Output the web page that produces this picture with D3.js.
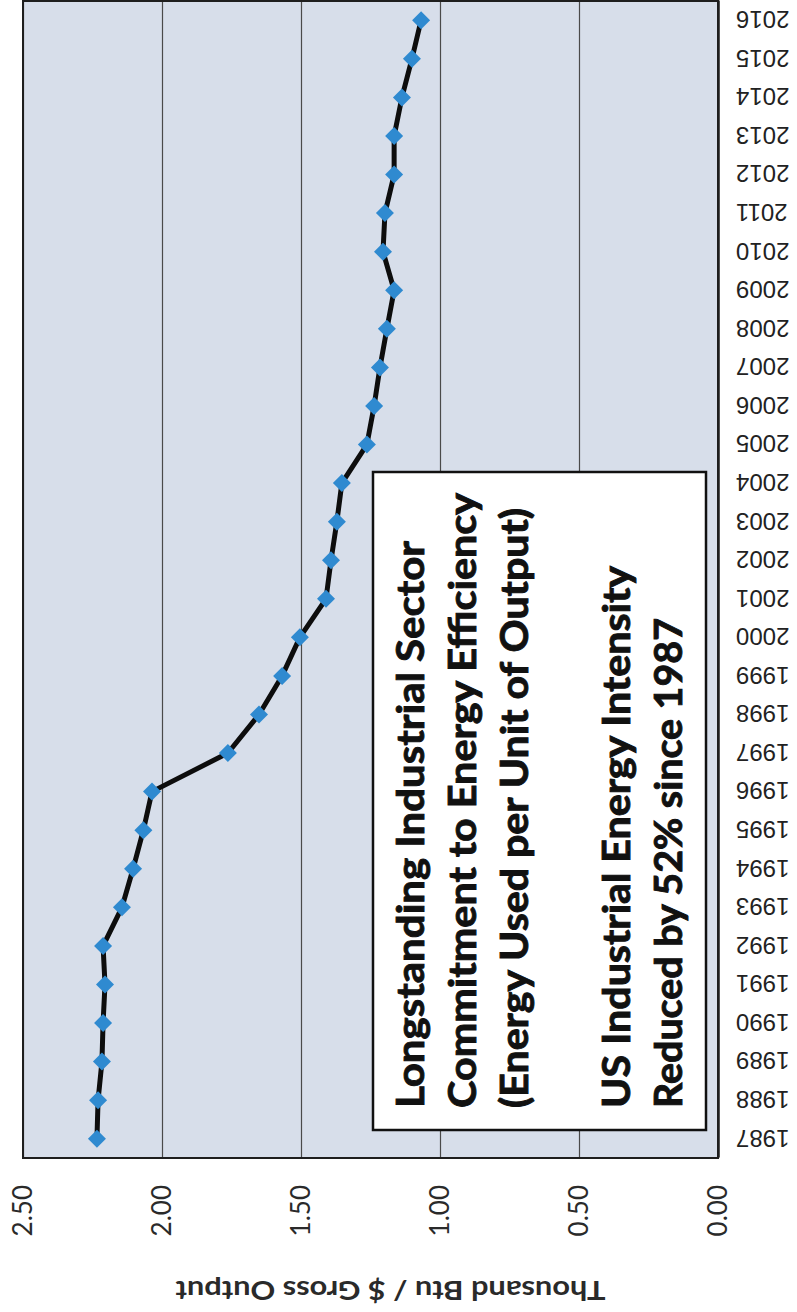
<!DOCTYPE html>
<html>
<head>
<meta charset="utf-8">
<script src="https://cdn.jsdelivr.net/npm/d3@7"></script>
<style>
  html, body { margin: 0; padding: 0; background: #ffffff; }
  svg { display: block; }
</style>
</head>
<body>
<script>
// Industrial energy intensity, thousand Btu per dollar of gross output
const years = ["1987","1988","1989","1990","1991","1992","1993","1994","1995","1996",
               "1997","1998","1999","2000","2001","2002","2003","2004","2005","2006",
               "2007","2008","2009","2010","2011","2012","2013","2014","2015","2016"];
const intensity = [2.234, 2.230, 2.216, 2.212, 2.205, 2.212, 2.144, 2.104, 2.067, 2.036,
                   1.763, 1.651, 1.568, 1.504, 1.410, 1.392, 1.371, 1.353, 1.263, 1.237,
                   1.216, 1.191, 1.165, 1.205, 1.198, 1.165, 1.165, 1.137, 1.101, 1.068];
const valueTicks = [0, 0.5, 1.0, 1.5, 2.0, 2.5];
const axisTitle = "Thousand Btu / $ Gross Output";
const noteLines = [
  "Longstanding Industrial Sector",
  "Commitment to Energy Efficiency",
  "(Energy Used per Unit of Output)",
  "US Industrial Energy Intensity",
  "Reduced by 52% since 1987"
];

const W = 797, H = 1312;
const svg = d3.select("body").append("svg")
  .attr("width", W).attr("height", H);

// The chart is laid out landscape (H wide, W tall) and turned a quarter turn onto the page.
const g = svg.append("g").attr("transform", `translate(0,${H}) rotate(-90)`);

const plot = { left: 154, right: 1311, top: 23, bottom: 718 };

const x = d3.scalePoint().domain(years).range([plot.left, plot.right]).padding(0.5);
const y = d3.scaleLinear().domain([0, 2.5]).range([plot.bottom, plot.top]);

// plot background
g.append("rect")
  .attr("x", plot.left).attr("y", plot.top)
  .attr("width", plot.right - plot.left).attr("height", plot.bottom - plot.top)
  .attr("fill", "#d7deea");

// value axis with gridlines
const yAxis = g.append("g")
  .attr("transform", `translate(${plot.left},0)`)
  .call(d3.axisLeft(y)
    .tickValues(valueTicks)
    .tickFormat(d3.format(".2f"))
    .tickSize(-(plot.right - plot.left))
    .tickPadding(27));
yAxis.select(".domain").remove();
yAxis.selectAll(".tick line").attr("stroke", "#4a4a4a").attr("stroke-width", 1.2);
yAxis.selectAll(".tick text")
  .attr("font-family", "Lato, 'Open Sans', sans-serif")
  .attr("font-size", 26)
  .attr("fill", "#2a2a2a");

// plot frame
g.append("rect")
  .attr("x", plot.left).attr("y", plot.top)
  .attr("width", plot.right - plot.left).attr("height", plot.bottom - plot.top)
  .attr("fill", "none").attr("stroke", "#1e1e1e").attr("stroke-width", 2);

// category axis
const xAxis = g.append("g")
  .attr("transform", `translate(0,${plot.bottom})`)
  .call(d3.axisBottom(x).tickSize(0).tickPadding(0));
xAxis.select(".domain").attr("stroke", "#1e1e1e").attr("stroke-width", 2.5);
xAxis.selectAll(".tick text")
  .attr("transform", "rotate(-90)")
  .attr("x", -18).attr("y", 0).attr("dy", "0.36em")
  .attr("text-anchor", "end")
  .attr("font-family", "'Liberation Sans', Arial, sans-serif")
  .attr("font-size", 24)
  .attr("fill", "#222");

// axis title
g.append("text")
  .attr("transform", `translate(22,${(plot.top + plot.bottom) / 2 + 20}) rotate(-90)`)
  .attr("text-anchor", "middle")
  .attr("dy", "0.35em")
  .attr("font-family", "Lato, 'Open Sans', sans-serif")
  .attr("font-weight", 700)
  .attr("font-size", 27)
  .attr("textLength", 430)
  .attr("lengthAdjust", "spacingAndGlyphs")
  .attr("fill", "#2a2a2a")
  .text(axisTitle);

// intensity line
const pts = years.map((yr, i) => [x(yr), y(intensity[i])]);
g.append("path")
  .datum(pts)
  .attr("d", d3.line())
  .attr("fill", "none")
  .attr("stroke", "#0d0d0d")
  .attr("stroke-width", 5)
  .attr("stroke-linejoin", "round");

// diamond markers
const r = 9;
g.selectAll("path.marker")
  .data(pts)
  .join("path")
  .attr("class", "marker")
  .attr("d", d => `M${d[0]},${d[1] - r}L${d[0] + r},${d[1]}L${d[0]},${d[1] + r}L${d[0] - r},${d[1]}Z`)
  .attr("fill", "#2f8ad0");

// annotation box
const box = { x0: 182, x1: 840, y0: 373, y1: 706 };
g.append("rect")
  .attr("x", box.x0).attr("y", box.y0)
  .attr("width", box.x1 - box.x0).attr("height", box.y1 - box.y0)
  .attr("fill", "#ffffff").attr("stroke", "#111").attr("stroke-width", 2.5);

const noteBase = [424, 476, 528, 630, 682];
const noteLen = [567, 615, 600, 542, 490];
g.selectAll("text.note")
  .data(noteLines)
  .join("text")
  .attr("class", "note")
  .attr("x", box.x0 + 22)
  .attr("y", (d, i) => noteBase[i])
  .attr("textLength", (d, i) => noteLen[i])
  .attr("lengthAdjust", "spacingAndGlyphs")
  .attr("font-family", "Lato, 'Open Sans', sans-serif")
  .attr("font-weight", 700)
  .attr("font-size", 38)
  .attr("fill", "#111")
  .attr("stroke", "#111")
  .attr("stroke-width", 0.9)
  .text(d => d);
</script>
</body>
</html>
